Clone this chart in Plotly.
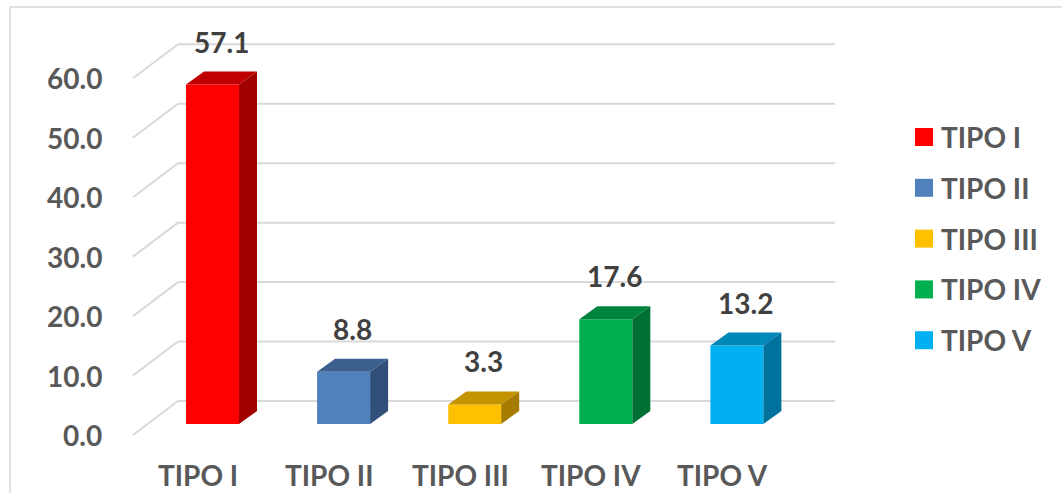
import plotly.graph_objects as go

# ---- data ----
categories = ["TIPO I", "TIPO II", "TIPO III", "TIPO IV", "TIPO V"]
values = [57.1, 8.8, 3.3, 17.6, 13.2]
tick_values = [0, 10, 20, 30, 40, 50, 60]
tick_labels = ["0.0", "10.0", "20.0", "30.0", "40.0", "50.0", "60.0"]

front_colors = ["#FF0000", "#4F81BD", "#FFC000", "#00B050", "#00B0F0"]
top_colors = ["#C00000", "#3B5F8E", "#C49300", "#00843C", "#0088B8"]
side_colors = ["#A00000", "#30507A", "#A67C00", "#006F33", "#00729D"]

# ---- geometry (pixel scale of the axes) ----
W, H = 1062, 493
X0_PX, X_STEP = 212.5, 131.1      # pixel x of first category, spacing
Y0_PX, Y_STEP = 424.0, 5.945      # pixel y of value 0 at bar front, px per unit

def ux(px):
    return px / X_STEP

def uy(px):
    return px / Y_STEP

x_range = [-X0_PX / X_STEP, (W - X0_PX) / X_STEP]
y_range = [(Y0_PX - H) / Y_STEP, Y0_PX / Y_STEP]

bar_w = ux(53)
ddx, ddy = ux(18), uy(13)            # bar depth offset
wall_dy = uy(23)                     # back wall offset from bar front
floor_dx, floor_dy = ux(45), uy(34)  # full floor depth
wall_left = ux(178 - X0_PX)
wall_right = ux(835 - X0_PX)
cat_dx = ux(-14.5)

FONT = "Lato, 'Liberation Sans', Arial, sans-serif"
FS = 28

fig = go.Figure()

# front faces as real bars
for i, (c, v) in enumerate(zip(categories, values)):
    fig.add_trace(go.Bar(
        x=[i], y=[v], width=bar_w, marker=dict(color=front_colors[i], line=dict(width=0)),
        name=c, showlegend=False, hoverinfo="skip"))

# top and side faces
for i, v in enumerate(values):
    xl, xr = i - bar_w / 2, i + bar_w / 2
    fig.add_trace(go.Scatter(
        x=[xl, xr, xr + ddx, xl + ddx, xl], y=[v, v, v + ddy, v + ddy, v],
        fill="toself", fillcolor=top_colors[i], mode="lines", line=dict(width=0),
        showlegend=False, hoverinfo="skip"))
    fig.add_trace(go.Scatter(
        x=[xr, xr + ddx, xr + ddx, xr, xr], y=[0, ddy, v + ddy, v, 0],
        fill="toself", fillcolor=side_colors[i], mode="lines", line=dict(width=0),
        showlegend=False, hoverinfo="skip"))

shapes = []
grid_col = "#D9D9D9"
for g in tick_values:
    yb = g + wall_dy
    shapes.append(dict(type="line", xref="x", yref="y", layer="below",
                       x0=wall_left, y0=yb, x1=wall_right, y1=yb,
                       line=dict(color=grid_col, width=2)))
    shapes.append(dict(type="line", xref="x", yref="y", layer="below",
                       x0=wall_left - floor_dx, y0=yb - floor_dy, x1=wall_left, y1=yb,
                       line=dict(color=grid_col, width=2)))

# chart border
shapes.append(dict(type="rect", xref="paper", yref="paper",
                   x0=10 / W, y0=-0.1, x1=1.1, y1=1 - 7 / H,
                   line=dict(color="#D9D9D9", width=1.5), fillcolor="rgba(0,0,0,0)"))

annotations = []
# y tick labels
for g, t in zip(tick_values, tick_labels):
    annotations.append(dict(x=wall_left - floor_dx, y=g + wall_dy - floor_dy, xref="x", yref="y",
                            text=f"<b>{t}</b>", showarrow=False, xanchor="right", yanchor="middle",
                            xshift=-29, font=dict(family=FONT, size=FS, color="#595959")))
# category labels
for i, c in enumerate(categories):
    annotations.append(dict(x=i + cat_dx, y=wall_dy - floor_dy, xref="x", yref="y",
                            text=f"<b>{c}</b>", showarrow=False, xanchor="center", yanchor="middle",
                            yshift=-40, font=dict(family=FONT, size=FS, color="#595959")))
# value labels
for i, v in enumerate(values):
    annotations.append(dict(x=i + ddx / 2, y=v + ddy, xref="x", yref="y",
                            text=f"<b>{v:.1f}</b>", showarrow=False, xanchor="center", yanchor="middle",
                            yshift=30, font=dict(family=FONT, size=FS, color="#404040")))

# manual legend
leg_x_px = 924
leg_y0_px, leg_step = 137, 50.8
for i, c in enumerate(categories):
    py = leg_y0_px + i * leg_step
    ly = (Y0_PX - py) / Y_STEP
    lx = ux(leg_x_px - X0_PX)
    fig.add_trace(go.Scatter(x=[lx], y=[ly], mode="markers",
                             marker=dict(symbol="square", size=18, color=front_colors[i], line=dict(width=0)),
                             showlegend=False, hoverinfo="skip"))
    annotations.append(dict(x=lx, y=ly, xref="x", yref="y", text=f"<b>{c}</b>", showarrow=False,
                            xanchor="left", yanchor="middle", xshift=15,
                            font=dict(family=FONT, size=FS, color="#595959")))

fig.update_layout(
    width=W, height=H, autosize=False,
    margin=dict(l=0, r=0, t=0, b=0),
    paper_bgcolor="white", plot_bgcolor="white",
    xaxis=dict(range=x_range, visible=False, fixedrange=True),
    yaxis=dict(range=y_range, visible=False, fixedrange=True),
    barmode="overlay",
    shapes=shapes, annotations=annotations,
    showlegend=False,
)

fig.write_html("out.html")
